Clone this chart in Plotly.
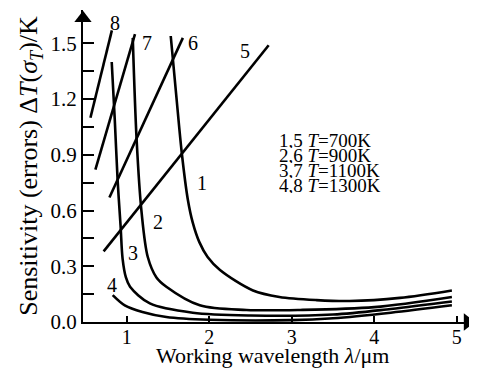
import plotly.graph_objects as go

# ---- data ----
c1_x = [1.533, 1.60, 1.667, 1.74, 1.80, 1.88, 1.98, 2.13, 2.53, 2.85, 3.30, 3.70, 4.31, 4.94]
c1_y = [1.54, 1.22, 0.91, 0.66, 0.535, 0.43, 0.35, 0.28, 0.17, 0.135, 0.118, 0.113, 0.13, 0.17]

c2_x = [1.073, 1.12, 1.18, 1.255, 1.36, 1.48, 1.885, 2.45, 3.10, 4.00, 4.94]
c2_y = [1.53, 0.98, 0.59, 0.35, 0.24, 0.19, 0.09, 0.065, 0.065, 0.08, 0.135]

c3_x = [0.818, 0.855, 0.89, 0.925, 0.95, 0.99, 1.04, 1.28, 1.80, 2.50, 3.50, 4.20, 4.94]
c3_y = [1.40, 1.09, 0.76, 0.52, 0.34, 0.24, 0.19, 0.10, 0.05, 0.035, 0.04, 0.07, 0.11]

c4_x = [0.83, 0.976, 1.19, 1.48, 2.00, 3.00, 3.50, 4.20, 4.94]
c4_y = [0.145, 0.09, 0.054, 0.027, 0.012, 0.01, 0.02, 0.05, 0.09]

l5_x = [0.72, 2.72]
l5_y = [0.38, 1.49]
l6_x = [0.79, 1.68]
l6_y = [0.67, 1.53]
l7_x = [0.62, 1.10]
l7_y = [0.82, 1.55]
l8_x = [0.56, 0.82]
l8_y = [1.10, 1.57]

curve_labels = ["1", "2", "3", "4", "5", "6", "7", "8"]
label_x = [1.91, 1.38, 1.07, 0.82, 2.43, 1.80, 1.24, 0.855]
label_y = [0.75, 0.54, 0.37, 0.20, 1.46, 1.50, 1.505, 1.61]

legend_lines = ["1,5 <i>T</i>=700K", "2,6 <i>T</i>=900K",
                "3,7 <i>T</i>=1100K", "4,8 <i>T</i>=1300K"]
legend_x = 2.82
legend_y = [0.975, 0.895, 0.815, 0.735]

y_ticks = [0.0, 0.3, 0.6, 0.9, 1.2, 1.5]
y_minor = [0.15, 0.45, 0.75, 1.05, 1.35]
x_ticks = [1, 2, 3, 4, 5]

X_RANGE = [0.47, 5.22]
Y_RANGE = [0, 1.68]

X_TITLE = "Working wavelength <i>λ</i>/μm"
Y_TITLE = "Sensitivity (errors) Δ<i>T</i>(<i>σ</i><sub><i>T</i></sub>)/K"

FONT = "Liberation Serif"

fig = go.Figure()
for xs, ys, shape in [(c1_x, c1_y, "spline"), (c2_x, c2_y, "spline"),
                      (c3_x, c3_y, "spline"), (c4_x, c4_y, "spline"),
                      (l5_x, l5_y, "linear"), (l6_x, l6_y, "linear"),
                      (l7_x, l7_y, "linear"), (l8_x, l8_y, "linear")]:
    fig.add_trace(go.Scatter(x=xs, y=ys, mode="lines",
                             line=dict(color="black", width=2.6, shape=shape, smoothing=0.9),
                             showlegend=False, hoverinfo="skip"))

# axis arrow heads
fig.add_trace(go.Scatter(x=[5.13], y=[Y_RANGE[0]], mode="markers",
                         marker=dict(symbol="triangle-right", size=15, color="black"),
                         cliponaxis=False, showlegend=False, hoverinfo="skip"))
fig.add_trace(go.Scatter(x=[X_RANGE[0]], y=[1.635], mode="markers",
                         marker=dict(symbol="triangle-up", size=15, color="black"),
                         cliponaxis=False, showlegend=False, hoverinfo="skip"))

for t, x, y in zip(curve_labels, label_x, label_y):
    fig.add_annotation(x=x, y=y, text=t, showarrow=False,
                       font=dict(family=FONT, size=20, color="black"))

for t, y in zip(legend_lines, legend_y):
    fig.add_annotation(x=legend_x, y=y, text=t, showarrow=False, xanchor="left",
                       height=15, font=dict(family=FONT, size=19, color="black"))

# x-axis title placed just under the tick labels
fig.add_annotation(x=0.483, y=-0.108, xref="paper", yref="paper",
                   xanchor="center", yanchor="middle", showarrow=False,
                   text=X_TITLE, font=dict(family=FONT, size=22, color="black"))

# page body adds an 8px offset, so the figure is shrunk and margins shifted by 8px
fig.update_layout(
    width=469, height=371,
    margin=dict(l=75, r=2, t=2, b=57),
    paper_bgcolor="white", plot_bgcolor="white",
    font=dict(family=FONT, size=20, color="black"),
)
fig.update_xaxes(
    range=X_RANGE, showgrid=False, zeroline=False, automargin=False,
    showline=True, linecolor="black", linewidth=2,
    tickmode="array", tickvals=x_ticks, ticks="inside", ticklen=6,
    tickwidth=1.5, tickcolor="black", ticklabelstandoff=-4,
    tickfont=dict(family=FONT, size=20),
)
fig.update_yaxes(
    range=Y_RANGE, showgrid=False, zeroline=False, automargin=False,
    showline=True, linecolor="black", linewidth=2,
    tickmode="array", tickvals=y_ticks, tickformat=".1f",
    ticks="inside", ticklen=11, tickwidth=1.5, tickcolor="black",
    tickfont=dict(family=FONT, size=21),
    minor=dict(tickmode="array", tickvals=y_minor, ticks="inside",
               ticklen=11, tickwidth=1.5, tickcolor="black"),
    title=dict(text=Y_TITLE, font=dict(family=FONT, size=26), standoff=5),
)

fig.write_html("out.html")
